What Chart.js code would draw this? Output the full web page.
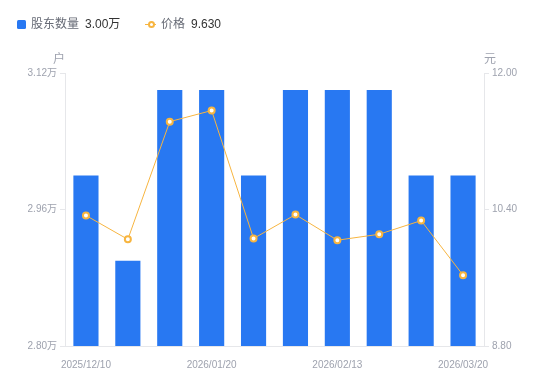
<!DOCTYPE html>
<html>
<head>
<meta charset="utf-8">
<script src="https://cdn.jsdelivr.net/npm/chart.js@4/dist/chart.umd.min.js"></script>
<style>
  html, body { margin:0; padding:0; background:#fff; }
  #wrap { position:relative; width:550px; height:381px; font-family:'Liberation Sans','Noto Sans CJK SC',sans-serif; }
  canvas { position:absolute; left:0; top:0; }
  .lg { position:absolute; top:16px; font-size:12px; line-height:16px; white-space:nowrap; }
  .lg .name { color:#666a75; }
  .lg .val { color:#333; margin-left:6px; }
  .sq { position:absolute; left:17px; top:20px; width:9px; height:9px; background:#2878F2; border-radius:1.5px; }
  .ln { position:absolute; left:145px; top:24px; width:11px; height:1px; background:#F7B540; }
  .dot { position:absolute; left:147.5px; top:21px; width:3px; height:3px; border:2px solid #F7B540; border-radius:50%; background:#fff; }
  .axt { position:absolute; top:49px; font-size:12px; color:#9ea2ae; }
</style>
</head>
<body>
<div id="wrap">
  <canvas id="c" width="550" height="381"></canvas>
  <div class="sq"></div>
  <div class="lg" style="left:31px"><span class="name">股东数量</span><span class="val" id="v1"></span></div>
  <div class="ln"></div><div class="dot"></div>
  <div class="lg" style="left:161px"><span class="name">价格</span><span class="val" id="v2"></span></div>
  <div class="axt" style="left:53px">户</div>
  <div class="axt" style="left:484px">元</div>
</div>
<script>
const categories = ['2025/12/10','2025/12/20','2025/12/31','2026/01/20','2026/01/31','2026/02/10','2026/02/13','2026/02/28','2026/03/10','2026/03/20'];
const holders = [3.00, 2.90, 3.10, 3.10, 3.00, 3.10, 3.10, 3.10, 3.00, 3.00]; // 万户
const price = [10.33, 10.05, 11.43, 11.56, 10.06, 10.34, 10.04, 10.11, 10.27, 9.63];
const leftTicks = [2.80, 2.96, 3.12];
const rightTicks = [8.80, 10.40, 12.00];
const shownLabelIdx = [0, 3, 6, 9];

document.getElementById('v1').textContent = holders[holders.length-1].toFixed(2) + '万';
document.getElementById('v2').textContent = price[price.length-1].toFixed(3);

const tickColor = '#9ea2ae';
const lineColor = '#e6e7ea';
const font = { family: "'Liberation Sans','Noto Sans CJK SC',sans-serif", size: 10 };

new Chart(document.getElementById('c'), {
  data: {
    labels: categories,
    datasets: [
      { type:'line', label:'价格', data: price, yAxisID:'yR', order:0,
        borderColor:'#F7B540', borderWidth:1, tension:0,
        pointRadius:3, pointBorderWidth:2, pointBackgroundColor:'#fff', pointBorderColor:'#F7B540' },
      { type:'bar', label:'股东数量', data: holders, yAxisID:'yL', order:1,
        backgroundColor:'#2878F2', barPercentage:0.6, categoryPercentage:1.0 }
    ]
  },
  options: {
    responsive:false, animation:false,
    layout: { padding: { top:73, left:0, right:0, bottom:0 } },
    plugins: { legend:{ display:false }, tooltip:{ enabled:false } },
    scales: {
      x: {
        grid: { display:false },
        border: { display:true, color:lineColor },
        ticks: { autoSkip:false, maxRotation:0, minRotation:0, padding:5, color:tickColor, font,
          callback: (v, i) => shownLabelIdx.includes(i) ? categories[i] : '' },
        afterFit: s => { s.height = 35; }
      },
      yL: {
        position:'left', min:leftTicks[0], max:leftTicks[leftTicks.length-1],
        afterBuildTicks: s => { s.ticks = leftTicks.map(v => ({ value:v })); },
        grid: { drawOnChartArea:false, drawTicks:true, tickLength:5, color:lineColor },
        border: { display:true, color:lineColor },
        ticks: { padding:3, color:tickColor, font, callback: v => Number(v).toFixed(2) + '万' },
        afterFit: s => { s.width = 65; }
      },
      yR: {
        position:'right', min:rightTicks[0], max:rightTicks[rightTicks.length-1],
        afterBuildTicks: s => { s.ticks = rightTicks.map(v => ({ value:v })); },
        grid: { drawOnChartArea:false, drawTicks:true, tickLength:5, color:lineColor },
        border: { display:true, color:lineColor },
        ticks: { padding:3, color:tickColor, font, callback: v => Number(v).toFixed(2) },
        afterFit: s => { s.width = 66; }
      }
    }
  }
});
</script>
</body>
</html>
